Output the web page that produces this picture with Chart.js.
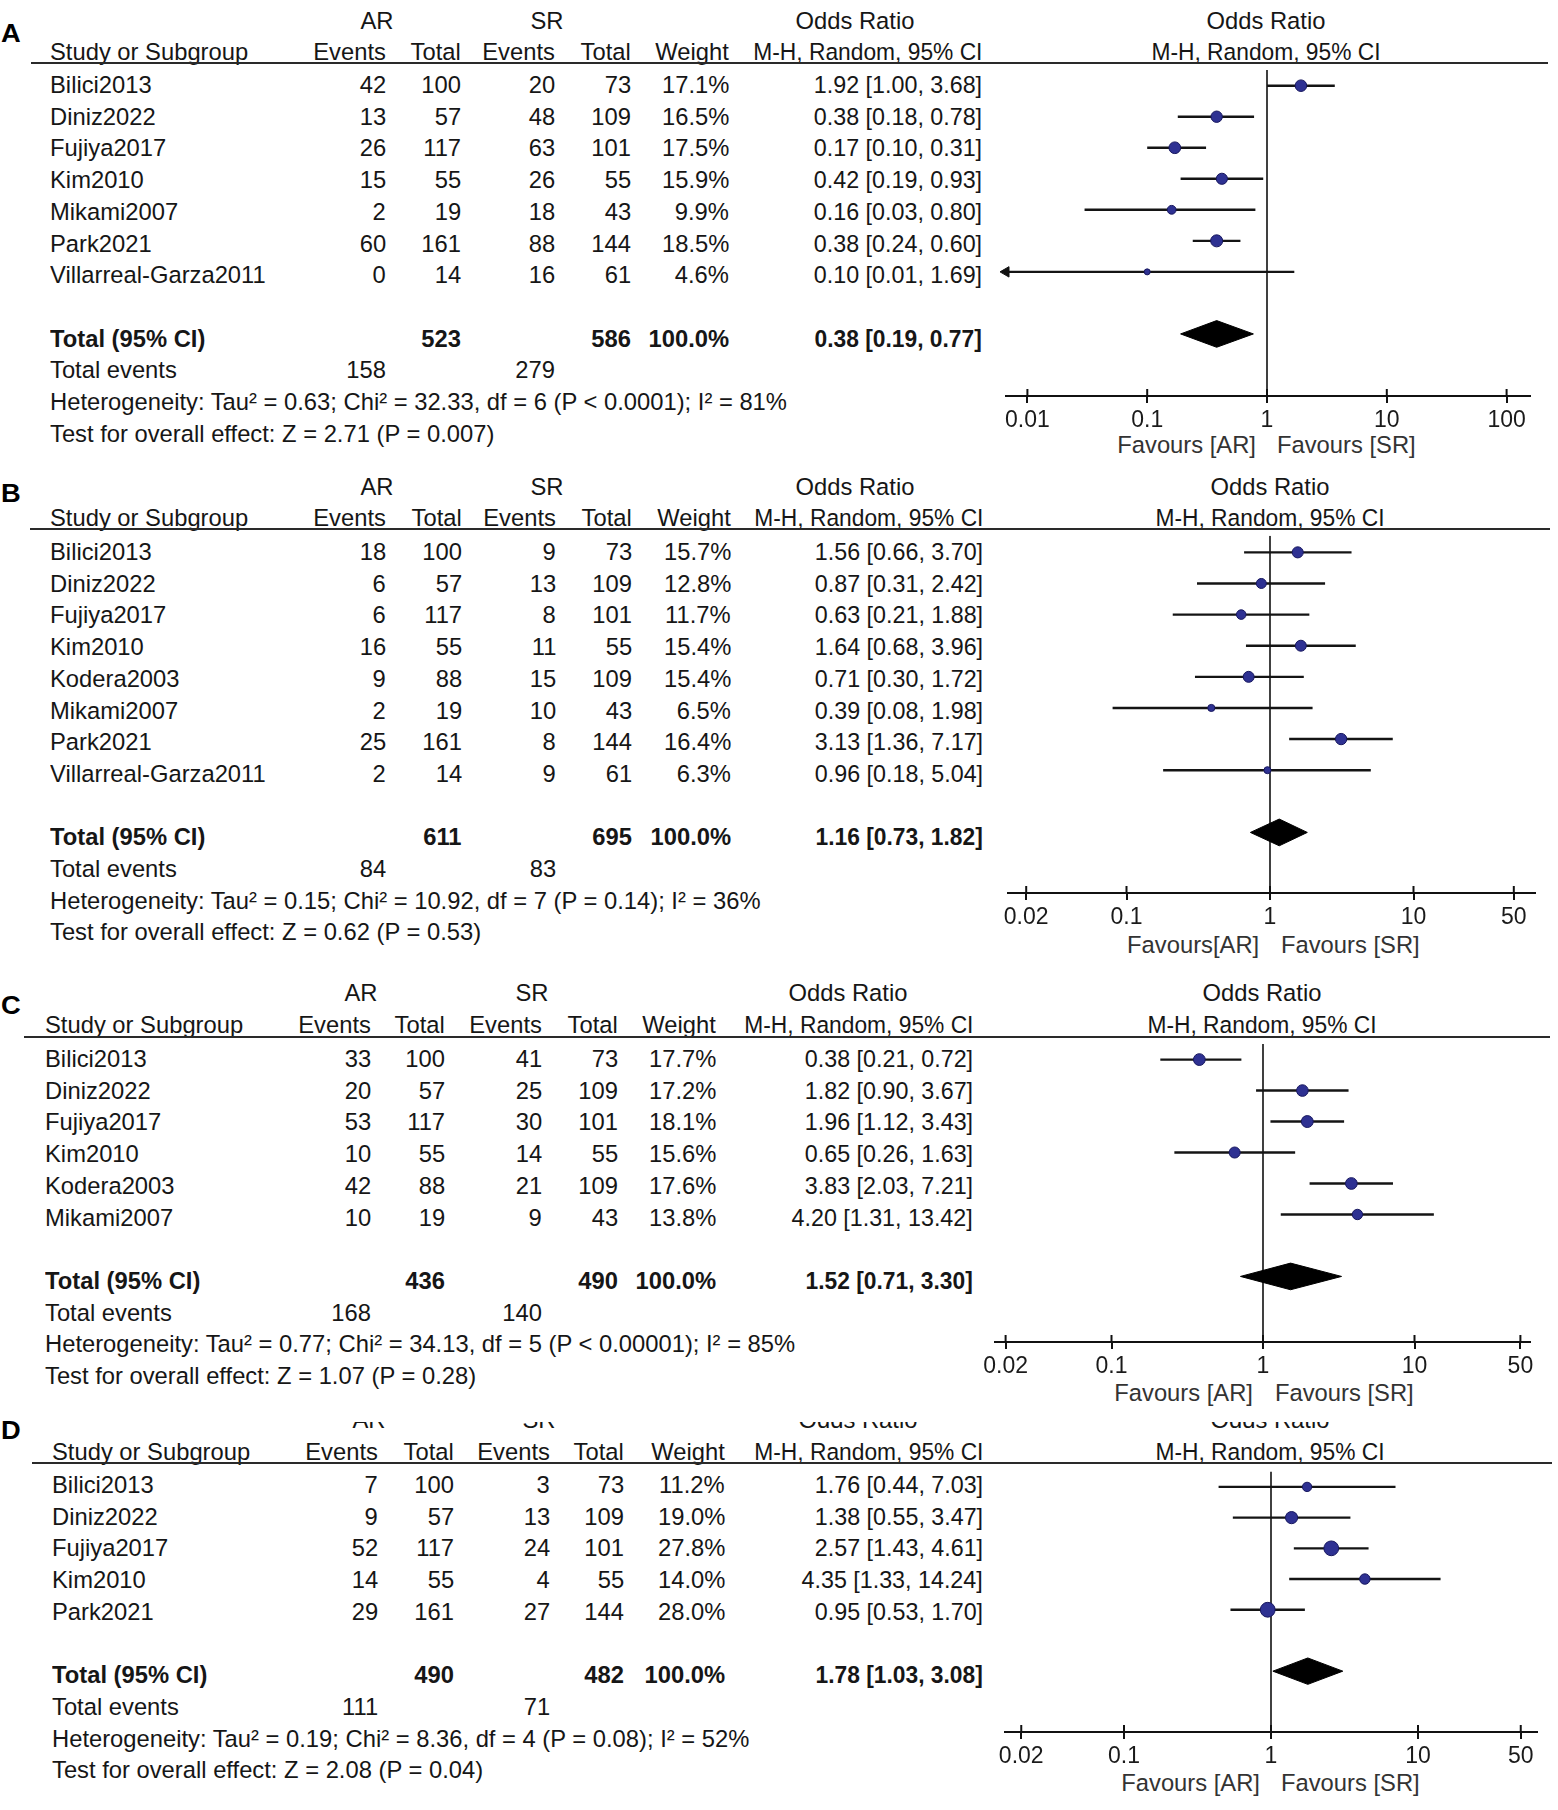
<!DOCTYPE html>
<html><head><meta charset="utf-8">
<script src="https://cdn.jsdelivr.net/npm/chart.js@4.4.1/dist/chart.umd.min.js"></script>
<style>
html,body{margin:0;padding:0;background:#fff;}
#root{position:relative;width:1558px;height:1810px;overflow:hidden;background:#fff;font-family:"Liberation Sans",Arial,sans-serif;color:#161616;}
.t{position:absolute;white-space:nowrap;font-size:24.5px;line-height:28px;height:28px;}
.hl{position:absolute;height:0;border-top:2px solid #2a2a2a;}
canvas{position:absolute;}
</style></head><body><div id="root"></div>
<script>
// ---------- DATA ----------
const studiesA = ["Bilici2013","Diniz2022","Fujiya2017","Kim2010","Mikami2007","Park2021","Villarreal-Garza2011"];
const arEventsA = [42,13,26,15,2,60,0];
const arTotalA  = [100,57,117,55,19,161,14];
const srEventsA = [20,48,63,26,18,88,16];
const srTotalA  = [73,109,101,55,43,144,61];
const weightA   = [17.1,16.5,17.5,15.9,9.9,18.5,4.6];
const orA = [1.92,0.38,0.17,0.42,0.16,0.38,0.10];
const loA = [1.00,0.18,0.10,0.19,0.03,0.24,0.01];
const hiA = [3.68,0.78,0.31,0.93,0.80,0.60,1.69];
const totalsA = [523,586,158,279];       // AR total, SR total, AR events, SR events
const pooledA = [0.38,0.19,0.77];
const hetA  = "Heterogeneity: Tau\u00B2 = 0.63; Chi\u00B2 = 32.33, df = 6 (P < 0.0001); I\u00B2 = 81%";
const testA = "Test for overall effect: Z = 2.71 (P = 0.007)";
const ticksA = [0.01,0.1,1,10,100];

const studiesB = ["Bilici2013","Diniz2022","Fujiya2017","Kim2010","Kodera2003","Mikami2007","Park2021","Villarreal-Garza2011"];
const arEventsB = [18,6,6,16,9,2,25,2];
const arTotalB  = [100,57,117,55,88,19,161,14];
const srEventsB = [9,13,8,11,15,10,8,9];
const srTotalB  = [73,109,101,55,109,43,144,61];
const weightB   = [15.7,12.8,11.7,15.4,15.4,6.5,16.4,6.3];
const orB = [1.56,0.87,0.63,1.64,0.71,0.39,3.13,0.96];
const loB = [0.66,0.31,0.21,0.68,0.30,0.08,1.36,0.18];
const hiB = [3.70,2.42,1.88,3.96,1.72,1.98,7.17,5.04];
const totalsB = [611,695,84,83];
const pooledB = [1.16,0.73,1.82];
const hetB  = "Heterogeneity: Tau\u00B2 = 0.15; Chi\u00B2 = 10.92, df = 7 (P = 0.14); I\u00B2 = 36%";
const testB = "Test for overall effect: Z = 0.62 (P = 0.53)";
const ticksB = [0.02,0.1,1,10,50];

const studiesC = ["Bilici2013","Diniz2022","Fujiya2017","Kim2010","Kodera2003","Mikami2007"];
const arEventsC = [33,20,53,10,42,10];
const arTotalC  = [100,57,117,55,88,19];
const srEventsC = [41,25,30,14,21,9];
const srTotalC  = [73,109,101,55,109,43];
const weightC   = [17.7,17.2,18.1,15.6,17.6,13.8];
const orC = [0.38,1.82,1.96,0.65,3.83,4.20];
const loC = [0.21,0.90,1.12,0.26,2.03,1.31];
const hiC = [0.72,3.67,3.43,1.63,7.21,13.42];
const totalsC = [436,490,168,140];
const pooledC = [1.52,0.71,3.30];
const hetC  = "Heterogeneity: Tau\u00B2 = 0.77; Chi\u00B2 = 34.13, df = 5 (P < 0.00001); I\u00B2 = 85%";
const testC = "Test for overall effect: Z = 1.07 (P = 0.28)";
const ticksC = [0.02,0.1,1,10,50];

const studiesD = ["Bilici2013","Diniz2022","Fujiya2017","Kim2010","Park2021"];
const arEventsD = [7,9,52,14,29];
const arTotalD  = [100,57,117,55,161];
const srEventsD = [3,13,24,4,27];
const srTotalD  = [73,109,101,55,144];
const weightD   = [11.2,19.0,27.8,14.0,28.0];
const orD = [1.76,1.38,2.57,4.35,0.95];
const loD = [0.44,0.55,1.43,1.33,0.53];
const hiD = [7.03,3.47,4.61,14.24,1.70];
const totalsD = [490,482,111,71];
const pooledD = [1.78,1.03,3.08];
const hetD  = "Heterogeneity: Tau\u00B2 = 0.19; Chi\u00B2 = 8.36, df = 4 (P = 0.08); I\u00B2 = 52%";
const testD = "Test for overall effect: Z = 2.08 (P = 0.04)";
const ticksD = [0.02,0.1,1,10,50];

const panelLetters = ["A","B","C","D"];
const favLeft  = ["Favours [AR]","Favours[AR]","Favours [AR]","Favours [AR]"];
const favRight = ["Favours [SR]","Favours [SR]","Favours [SR]","Favours [SR]"];

// ---------- LAYOUT (pixels) ----------
const layA = {titleY:21, letterY:33, headY:52, lineY:63, row0:85, axisY:396, favY:445, lx0:31, lx1:1548,
  study:50, ev1:386, tot1:461, ev2:555, tot2:631, wt:729, or:982, arC:377, srC:547, orHeadC:855, plotC:1266,
  L:1006, R:1530, one:1267, dec:119.8, favAR:1256, favSR:1277};
const layB = {titleY:487, letterY:493, headY:518, lineY:529, row0:552, axisY:893, favY:945, lx0:30, lx1:1550,
  study:50, ev1:386, tot1:462, ev2:556, tot2:632, wt:731, or:983, arC:377, srC:547, orHeadC:855, plotC:1270,
  L:1008, R:1535, one:1270, dec:143.5, favAR:1259, favSR:1281};
const layC = {titleY:993, letterY:1005, headY:1025, lineY:1037, row0:1059, axisY:1342, favY:1393, lx0:24, lx1:1550,
  study:45, ev1:371, tot1:445, ev2:542, tot2:618, wt:716, or:973, arC:361, srC:532, orHeadC:848, plotC:1262,
  L:995, R:1530, one:1263, dec:151.5, favAR:1253, favSR:1275};
const layD = {titleY:1420, clipTop:1422, letterY:1430, headY:1452, lineY:1463, row0:1485, axisY:1732, favY:1783, lx0:32, lx1:1552,
  study:52, ev1:378, tot1:454, ev2:550, tot2:624, wt:725, or:983, arC:369, srC:539, orHeadC:858, plotC:1270,
  L:1005, R:1537, one:1271, dec:147, favAR:1260, favSR:1281};
const ROWH = 31.7, SX = 0.97;

const root = document.getElementById('root');

function txt(parent, x, y, s, align, o) {
  o = o || {};
  const d = document.createElement('div');
  d.className = 't'; d.textContent = s;
  d.style.top = (y - 14) + 'px';
  if (o.bold) d.style.fontWeight = 'bold';
  if (o.color) d.style.color = o.color;
  if (o.size) d.style.fontSize = o.size + 'px';
  const sx = o.sx || SX;
  if (align === 'left') { d.style.left = x + 'px'; d.style.transformOrigin = '0 50%'; d.style.transform = 'scaleX(' + sx + ')'; }
  else if (align === 'right') { d.style.right = (1558 - x) + 'px'; d.style.transformOrigin = '100% 50%'; d.style.transform = 'scaleX(' + sx + ')'; }
  else { d.style.left = x + 'px'; d.style.transformOrigin = '50% 50%'; d.style.transform = 'translateX(-50%) scaleX(' + sx + ')'; }
  parent.appendChild(d);
}
const f2 = v => v.toFixed(2);
const ciText = (o, l, h) => f2(o) + ' [' + f2(l) + ', ' + f2(h) + ']';

function buildTable(lay, d, k) {
  txt(root, 1, lay.letterY, panelLetters[k], 'left', {bold:true, size:26, sx:1.05, color:'#000'});
  let hp = root, off = 0;
  if (lay.clipTop) {
    hp = document.createElement('div');
    hp.style.cssText = 'position:absolute;left:0;top:' + lay.clipTop + 'px;width:1558px;height:30px;overflow:hidden;';
    root.appendChild(hp); off = lay.clipTop;
  }
  txt(hp, lay.arC, lay.titleY - off, 'AR', 'center');
  txt(hp, lay.srC, lay.titleY - off, 'SR', 'center');
  txt(hp, lay.orHeadC, lay.titleY - off, 'Odds Ratio', 'center');
  txt(hp, lay.plotC, lay.titleY - off, 'Odds Ratio', 'center');
  txt(root, lay.study, lay.headY, 'Study or Subgroup', 'left');
  txt(root, lay.ev1, lay.headY, 'Events', 'right');
  txt(root, lay.tot1, lay.headY, 'Total', 'right');
  txt(root, lay.ev2, lay.headY, 'Events', 'right');
  txt(root, lay.tot2, lay.headY, 'Total', 'right');
  txt(root, lay.wt, lay.headY, 'Weight', 'right');
  txt(root, lay.or, lay.headY, 'M-H, Random, 95% CI', 'right', {sx:0.93});
  txt(root, lay.plotC, lay.headY, 'M-H, Random, 95% CI', 'center', {sx:0.93});
  const hl = document.createElement('div'); hl.className = 'hl';
  hl.style.left = lay.lx0 + 'px'; hl.style.width = (lay.lx1 - lay.lx0) + 'px'; hl.style.top = (lay.lineY - 1) + 'px';
  root.appendChild(hl);
  const n = d.studies.length;
  for (let i = 0; i < n; i++) {
    const y = lay.row0 + i * ROWH;
    txt(root, lay.study, y, d.studies[i], 'left');
    txt(root, lay.ev1, y, String(d.arEv[i]), 'right');
    txt(root, lay.tot1, y, String(d.arTot[i]), 'right');
    txt(root, lay.ev2, y, String(d.srEv[i]), 'right');
    txt(root, lay.tot2, y, String(d.srTot[i]), 'right');
    txt(root, lay.wt, y, d.weight[i].toFixed(1) + '%', 'right');
    txt(root, lay.or, y, ciText(d.or[i], d.lo[i], d.hi[i]), 'right', {sx:0.95});
  }
  const yT = lay.row0 + (n + 1) * ROWH;
  txt(root, lay.study, yT, 'Total (95% CI)', 'left', {bold:true});
  txt(root, lay.tot1, yT, String(d.totals[0]), 'right', {bold:true});
  txt(root, lay.tot2, yT, String(d.totals[1]), 'right', {bold:true});
  txt(root, lay.wt, yT, '100.0%', 'right', {bold:true});
  txt(root, lay.or, yT, ciText(d.pooled[0], d.pooled[1], d.pooled[2]), 'right', {bold:true, sx:0.93});
  const yE = lay.row0 + (n + 2) * ROWH;
  txt(root, lay.study, yE, 'Total events', 'left');
  txt(root, lay.ev1, yE, String(d.totals[2]), 'right');
  txt(root, lay.ev2, yE, String(d.totals[3]), 'right');
  txt(root, lay.study, lay.row0 + (n + 3) * ROWH, d.het, 'left');
  txt(root, lay.study, lay.row0 + (n + 4) * ROWH, d.test, 'left');
  txt(root, lay.favAR, lay.favY, favLeft[k], 'right', {color:'#333'});
  txt(root, lay.favSR, lay.favY, favRight[k], 'left', {color:'#333'});
}

const tickUp = {
  id: 'tickUp',
  afterDraw(chart) {
    const s = chart.scales.x, ctx = chart.ctx;
    ctx.save(); ctx.strokeStyle = '#111'; ctx.lineWidth = 2;
    s.ticks.forEach(t => {
      const x = s.getPixelForValue(t.value);
      ctx.beginPath(); ctx.moveTo(x, s.top); ctx.lineTo(x, s.top - 7); ctx.stroke();
    });
    ctx.restore();
  }
};

function buildChart(lay, d) {
  const pad = 14, fitH = 50;
  const w = lay.R - lay.L + 2 * pad, h = lay.axisY - lay.lineY + fitH;
  const c = document.createElement('canvas');
  c.width = w; c.height = h;
  c.style.left = (lay.L - pad) + 'px'; c.style.top = lay.lineY + 'px';
  c.style.width = w + 'px'; c.style.height = h + 'px';
  root.appendChild(c);
  const plot0 = lay.row0 - 6;
  const yMin = (lay.lineY - plot0) / ROWH, yMax = (lay.axisY - plot0) / ROWH;
  const xMin = Math.pow(10, (lay.L - lay.one) / lay.dec), xMax = Math.pow(10, (lay.R - lay.one) / lay.dec);
  const n = d.studies.length;
  const tMin = d.ticks[0], tMax = d.ticks[d.ticks.length - 1];
  const ds = [];
  ds.push({type:'line', data:[{x:1, y:yMin}, {x:1, y:yMax}], borderColor:'#111', borderWidth:1.6, pointRadius:0, fill:false, order:9});
  for (let i = 0; i < n; i++) {
    const lo = d.lo[i] <= tMin ? xMin : d.lo[i];
    const hi = d.hi[i] >= tMax ? xMax : d.hi[i];
    ds.push({type:'line', data:[{x:lo, y:i}, {x:hi, y:i}], borderColor:'#141414', borderWidth:2.4, pointRadius:0, fill:false, order:5});
  }
  const arrows = [];
  d.lo.forEach((v, i) => { if (v <= tMin) arrows.push({x:xMin, y:i}); });
  if (arrows.length) ds.push({type:'scatter', data:arrows, pointStyle:'triangle', pointRotation:-90, rotation:-90, pointRadius:6,
    backgroundColor:'#111', pointBackgroundColor:'#111', borderColor:'#111', pointBorderColor:'#111', clip:false, order:1});
  ds.push({type:'scatter', data:d.or.map((v, i) => ({x:v, y:i})), pointStyle:'circle',
    pointRadius:d.weight.map(wt => 1.4 * Math.sqrt(wt)),
    backgroundColor:'#2e3192', pointBackgroundColor:'#2e3192', borderColor:'#17175e', pointBorderColor:'#17175e', pointBorderWidth:1, order:0});
  const t = n + 1, hh = 0.43;
  ds.push({type:'line', data:[{x:d.pooled[1], y:t}, {x:d.pooled[0], y:t - hh}, {x:d.pooled[2], y:t}],
    borderColor:'#000', borderWidth:1, pointRadius:0, fill:false, tension:0, order:2});
  ds.push({type:'line', data:[{x:d.pooled[1], y:t}, {x:d.pooled[0], y:t + hh}, {x:d.pooled[2], y:t}],
    borderColor:'#000', borderWidth:1, pointRadius:0, fill:'-1', backgroundColor:'#000', tension:0, order:2});

  new Chart(c, {
    type:'scatter',
    data:{datasets:ds},
    options:{
      responsive:false, animation:false, events:[],
      layout:{padding:{left:pad, right:pad, top:0, bottom:0}},
      plugins:{legend:{display:false}, tooltip:{enabled:false}},
      scales:{
        x:{type:'logarithmic', min:xMin, max:xMax, bounds:'data', position:'bottom',
          afterBuildTicks: s => { s.ticks = d.ticks.map(v => ({value:v})); },
          afterFit: s => { s.height = fitH; s.paddingLeft = 0; s.paddingRight = 0; },
          ticks:{autoSkip:false, maxRotation:0, minRotation:0, padding:4, color:'#1a1a1a',
            font:{family:'Liberation Sans', size:23}, callback: v => String(v)},
          grid:{display:true, drawOnChartArea:false, drawTicks:true, tickLength:7, color:'#111', lineWidth:2},
          border:{display:true, color:'#111', width:2}},
        y:{type:'linear', display:false, reverse:true, min:yMin, max:yMax, bounds:'data'}
      }
    },
    plugins:[tickUp]
  });
}

const panels = [
  {lay:layA, d:{studies:studiesA, arEv:arEventsA, arTot:arTotalA, srEv:srEventsA, srTot:srTotalA, weight:weightA, or:orA, lo:loA, hi:hiA, totals:totalsA, pooled:pooledA, het:hetA, test:testA, ticks:ticksA}},
  {lay:layB, d:{studies:studiesB, arEv:arEventsB, arTot:arTotalB, srEv:srEventsB, srTot:srTotalB, weight:weightB, or:orB, lo:loB, hi:hiB, totals:totalsB, pooled:pooledB, het:hetB, test:testB, ticks:ticksB}},
  {lay:layC, d:{studies:studiesC, arEv:arEventsC, arTot:arTotalC, srEv:srEventsC, srTot:srTotalC, weight:weightC, or:orC, lo:loC, hi:hiC, totals:totalsC, pooled:pooledC, het:hetC, test:testC, ticks:ticksC}},
  {lay:layD, d:{studies:studiesD, arEv:arEventsD, arTot:arTotalD, srEv:srEventsD, srTot:srTotalD, weight:weightD, or:orD, lo:loD, hi:hiD, totals:totalsD, pooled:pooledD, het:hetD, test:testD, ticks:ticksD}}
];
panels.forEach((p, k) => { buildTable(p.lay, p.d, k); buildChart(p.lay, p.d); });
</script></body></html>
